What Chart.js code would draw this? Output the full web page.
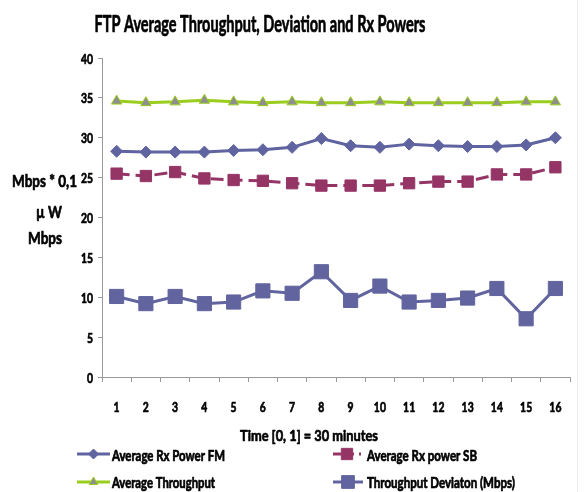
<!DOCTYPE html>
<html>
<head>
<meta charset="utf-8">
<script src="https://cdn.jsdelivr.net/npm/chart.js"></script>
<style>
  html, body { margin: 0; padding: 0; background: #ffffff; }
  #wrap { position: relative; width: 588px; height: 492px; }
</style>
</head>
<body>
<div id="wrap"><canvas id="c" width="588" height="492"></canvas></div>
<script>
const categories = ['1','2','3','4','5','6','7','8','9','10','11','12','13','14','15','16'];
const rxPowerFM   = [28.3, 28.2, 28.2, 28.2, 28.4, 28.5, 28.8, 29.9, 29.0, 28.8, 29.2, 29.0, 28.9, 28.9, 29.1, 30.0];
const rxPowerSB   = [25.5, 25.2, 25.7, 24.9, 24.7, 24.6, 24.3, 24.0, 24.0, 24.0, 24.3, 24.5, 24.5, 25.4, 25.4, 26.3];
const throughput  = [34.6, 34.4, 34.5, 34.7, 34.5, 34.4, 34.5, 34.4, 34.4, 34.5, 34.4, 34.4, 34.4, 34.4, 34.5, 34.5];
const deviation   = [10.1, 9.2, 10.1, 9.2, 9.4, 10.8, 10.5, 13.2, 9.6, 11.4, 9.4, 9.6, 9.9, 11.1, 7.3, 11.1];
const yTicks = [0, 5, 10, 15, 20, 25, 30, 35, 40];

const titleText = 'FTP Average Throughput, Deviation and Rx Powers';
const xTitleText = 'Time [0, 1] = 30 minutes';
const yTitleLines = ['Mbps * 0,1', 'µ W', 'Mbps'];
const legendNames = ['Average Rx Power FM', 'Average Rx power SB', 'Average Throughput', 'Throughput Deviaton (Mbps)'];

const FONT = 'Lato, "Liberation Sans", sans-serif';
const C_FM = '#5f64a0';
const C_SB = '#953566';
const C_TP = '#9acd1c';
const C_TP_PT = '#8e8e8e';
const C_DEV = '#61649e';

const series = [
  { label: legendNames[0], data: rxPowerFM, borderColor: C_FM, backgroundColor: C_FM, pointBorderColor: C_FM,
    pointStyle: 'rectRot', pointRadius: 6, borderWidth: 3, borderDash: [] },
  { label: legendNames[1], data: rxPowerSB, borderColor: C_SB, backgroundColor: C_SB, pointBorderColor: C_SB,
    pointStyle: 'rect', pointRadius: 8, borderWidth: 3, borderDash: [13, 6] },
  { label: legendNames[2], data: throughput, borderColor: C_TP, backgroundColor: C_TP_PT, pointBorderColor: C_TP,
    pointStyle: 'triangle', pointRadius: 6, borderWidth: 3, borderDash: [] },
  { label: legendNames[3], data: deviation, borderColor: C_DEV, backgroundColor: C_DEV, pointBorderColor: C_DEV,
    pointStyle: 'rect', pointRadius: 10, borderWidth: 3, borderDash: [] }
];

function drawMarker(ctx, style, x, y, r, fill, stroke) {
  ctx.save();
  ctx.setLineDash([]);
  ctx.fillStyle = fill;
  ctx.strokeStyle = stroke;
  ctx.lineWidth = 1;
  ctx.beginPath();
  if (style === 'rectRot') {
    ctx.moveTo(x, y - r); ctx.lineTo(x + r, y); ctx.lineTo(x, y + r); ctx.lineTo(x - r, y); ctx.closePath();
  } else if (style === 'rect') {
    const s = r * Math.SQRT1_2;
    ctx.rect(x - s, y - s, 2 * s, 2 * s);
  } else if (style === 'triangle') {
    ctx.moveTo(x, y - r); ctx.lineTo(x + r * 0.87, y + r * 0.5); ctx.lineTo(x - r * 0.87, y + r * 0.5); ctx.closePath();
  }
  ctx.fill();
  ctx.stroke();
  ctx.restore();
}

// draw text squeezed horizontally by factor sx (slightly emboldened)
function textScaled(ctx, text, x, y, align, sx) {
  ctx.save();
  ctx.translate(x, y);
  ctx.scale(sx, 1);
  ctx.textAlign = align;
  ctx.textBaseline = 'alphabetic';
  ctx.fillStyle = '#000';
  ctx.strokeStyle = '#000';
  ctx.lineWidth = 0.7;
  ctx.lineJoin = 'round';
  ctx.fillText(text, 0, 0);
  ctx.strokeText(text, 0, 0);
  ctx.restore();
}
// draw text fitted to a given width
function textFit(ctx, text, x, y, align, width) {
  const w = ctx.measureText(text).width;
  textScaled(ctx, text, x, y, align, width / w);
}

const textPlugin = {
  id: 'texts',
  afterDraw(chart) {
    const ctx = chart.ctx;
    ctx.save();
    ctx.strokeStyle = '#ececec';
    ctx.lineWidth = 1;
    ctx.beginPath();
    ctx.moveTo(577.5, 0); ctx.lineTo(577.5, 492);
    ctx.stroke();

    // tick labels from the scales
    const xs = chart.scales.x, ys = chart.scales.y;
    ctx.font = 'bold 14px ' + FONT;
    xs.ticks.forEach((t, i) => {
      const px = xs.getPixelForTick(i);
      textScaled(ctx, String(xs.getLabelForValue(t.value)), px, 412, 'center', 0.74);
    });
    ys.ticks.forEach((t, i) => {
      const py = ys.getPixelForValue(t.value);
      textScaled(ctx, String(t.value), 93, py + 5.5, 'right', 0.74);
    });

    ctx.font = 'bold 22px ' + FONT;
    textFit(ctx, titleText, 260, 31.5, 'center', 331);

    ctx.font = 'bold 16px ' + FONT;
    textFit(ctx, xTitleText, 309, 440.5, 'center', 138);

    const yBase = [186.5, 218, 244];
    const yCx = [44.5, 49, 45];
    const yW = [65, 26, 34];
    ctx.font = 'bold 17px ' + FONT;
    yTitleLines.forEach((t, i) => textFit(ctx, t, yCx[i], yBase[i], 'center', yW[i]));

    // legend
    const items = [
      { x: 77, y: 454, w: 33, tx: 112, tw: 113, base: 461 },
      { x: 333, y: 454, w: 28, tx: 367, tw: 110, base: 461 },
      { x: 77, y: 482, w: 33, tx: 112, tw: 103, base: 488 },
      { x: 333, y: 482, w: 30, tx: 367, tw: 148, base: 488 }
    ];
    ctx.font = 'bold 15px ' + FONT;
    series.forEach((s, i) => {
      const it = items[i];
      ctx.save();
      ctx.strokeStyle = s.borderColor;
      ctx.lineWidth = s.borderWidth;
      ctx.setLineDash(i === 1 ? [8, 5] : []);
      ctx.beginPath();
      ctx.moveTo(it.x, it.y); ctx.lineTo(it.x + it.w, it.y);
      ctx.stroke();
      ctx.restore();
      const r = i === 3 ? 9 : (i === 1 ? 8 : 5);
      drawMarker(ctx, s.pointStyle, it.x + it.w / 2, it.y, r, s.backgroundColor, s.pointBorderColor);
      textFit(ctx, s.label, it.tx, it.base, 'left', it.tw);
    });
    ctx.restore();
  }
};

new Chart(document.getElementById('c'), {
  type: 'line',
  data: {
    labels: categories,
    datasets: series.map(s => ({
      label: s.label,
      data: s.data,
      borderColor: s.borderColor,
      backgroundColor: s.backgroundColor,
      pointBackgroundColor: s.backgroundColor,
      pointBorderColor: s.pointBorderColor,
      pointBorderWidth: 1,
      pointStyle: s.pointStyle,
      pointRadius: s.pointRadius,
      pointHoverRadius: s.pointRadius,
      borderWidth: s.borderWidth,
      borderDash: s.borderDash,
      tension: 0,
      fill: false
    }))
  },
  options: {
    responsive: false,
    animation: false,
    events: [],
    layout: { padding: { top: 58, left: 0, right: 18, bottom: 0 } },
    plugins: {
      legend: { display: false },
      title: { display: false },
      tooltip: { enabled: false }
    },
    scales: {
      x: {
        type: 'category',
        offset: true,
        grid: { display: true, drawOnChartArea: false, tickLength: 5, color: '#9a9a9a', offset: true },
        border: { display: true, color: '#9a9a9a', width: 1 },
        ticks: { color: 'rgba(0,0,0,0)', font: { family: FONT, size: 14, weight: 'bold' }, padding: 16, maxRotation: 0, autoSkip: false },
        afterFit(scale) { scale.height = 115; }
      },
      y: {
        min: 0, max: 40,
        afterBuildTicks(scale) { scale.ticks = yTicks.map(v => ({ value: v })); },
        grid: { display: true, drawOnChartArea: false, tickLength: 4, color: '#9a9a9a' },
        border: { display: true, color: '#9a9a9a', width: 1 },
        ticks: { color: 'rgba(0,0,0,0)', font: { family: FONT, size: 14, weight: 'bold' }, padding: 5 },
        afterFit(scale) { scale.width = 102; }
      }
    }
  },
  plugins: [textPlugin]
});
</script>
</body>
</html>
